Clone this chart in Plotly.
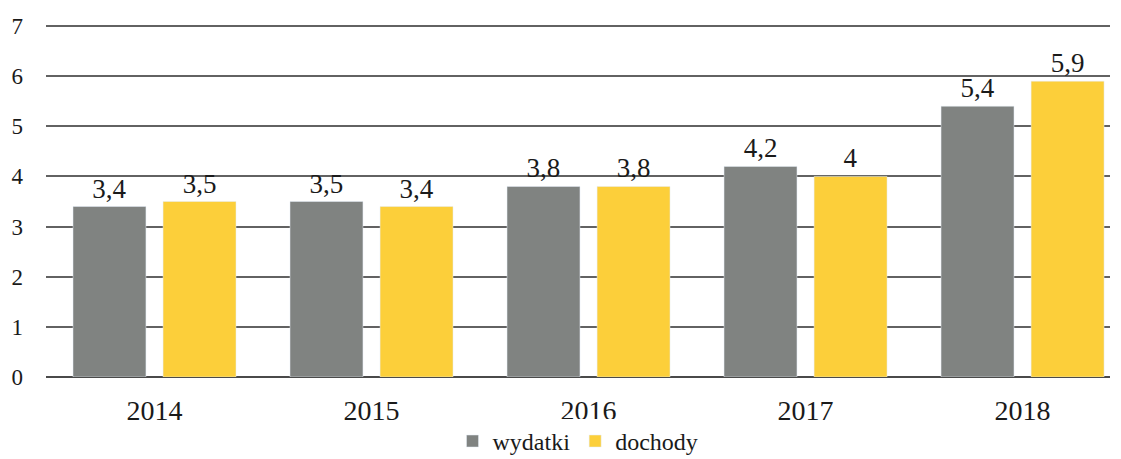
import plotly.graph_objects as go

years = ["2014", "2015", "2016", "2017", "2018"]
wydatki = [3.4, 3.5, 3.8, 4.2, 5.4]
dochody = [3.5, 3.4, 3.8, 4.0, 5.9]
y_ticks = [0, 1, 2, 3, 4, 5, 6, 7]

def lab(vals):
    return [f"{v:g}".replace(".", ",") for v in vals]

font = "Liberation Serif, DejaVu Serif, serif"

fig = go.Figure()
fig.add_trace(go.Bar(name="wydatki", x=years, y=wydatki, marker_color="#808381",
                     text=lab(wydatki), textposition="outside", cliponaxis=False,
                     textfont=dict(size=27, color="#1a1a1a", family=font)))
fig.add_trace(go.Bar(name="dochody", x=years, y=dochody, marker_color="#FCCF3A",
                     text=lab(dochody), textposition="outside", cliponaxis=False,
                     textfont=dict(size=27, color="#1a1a1a", family=font)))

# page body has an 8px margin, so the figure is sized/offset to compensate
fig.update_layout(
    width=1113, height=451,
    margin=dict(l=38, r=11, t=15, b=82, autoexpand=False),
    paper_bgcolor="white", plot_bgcolor="white",
    barmode="group", bargap=0.17, bargroupgap=0.19,
    font=dict(family=font, size=23, color="#1a1a1a"),
    showlegend=True,
    legend=dict(orientation="h", x=0.5, xanchor="center", y=-0.182, yanchor="middle",
                font=dict(size=24, family=font), itemwidth=30, tracegroupgap=0),
)
fig.update_xaxes(type="category", range=[-0.5, 4.403], showgrid=False,
                 showline=False, ticks="", ticklabelstandoff=14,
                 tickfont=dict(size=28, family=font))
fig.update_yaxes(range=[0, 7.06], tickvals=y_ticks, showgrid=True, gridcolor="#626262",
                 gridwidth=1.5, zeroline=True, zerolinecolor="#4a4a4a", zerolinewidth=2,
                 ticks="", ticklabelstandoff=22, tickfont=dict(size=23, family=font))

fig.write_html("out.html")
